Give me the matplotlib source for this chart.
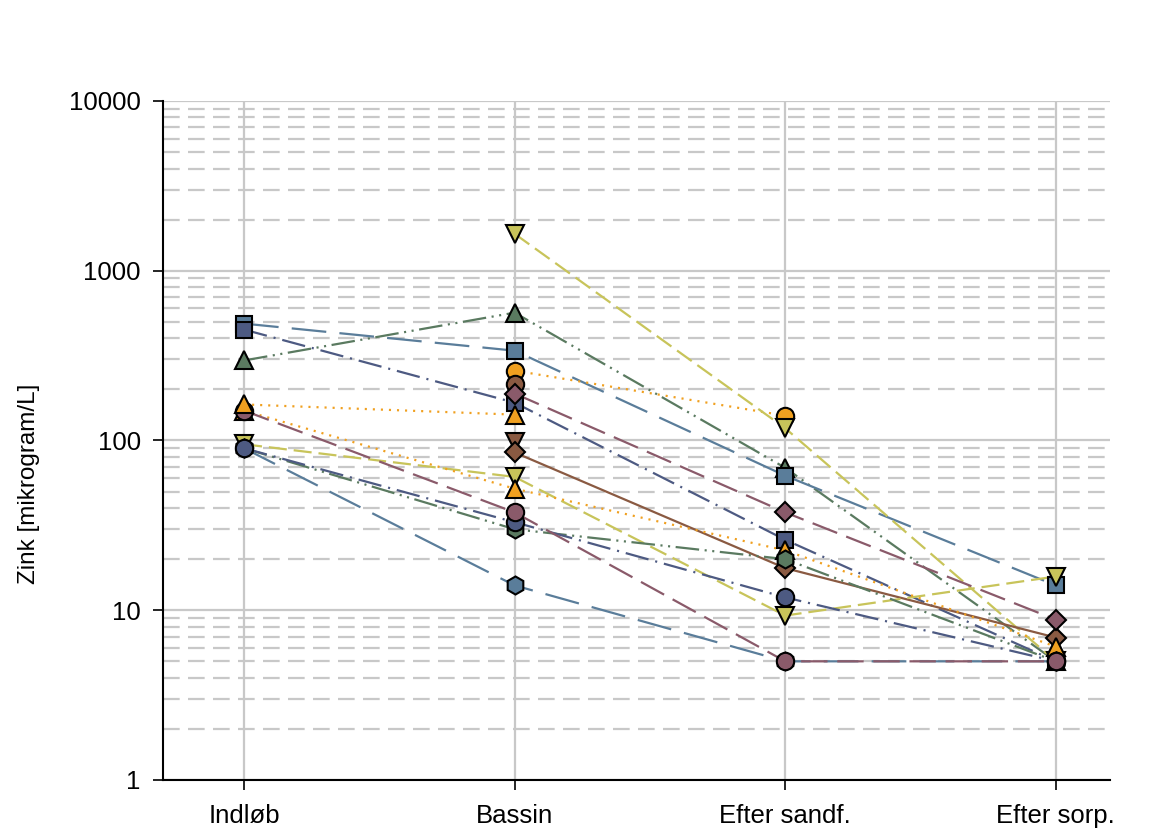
import numpy as np
import matplotlib
matplotlib.use("Agg")
import matplotlib.pyplot as plt
from matplotlib.ticker import FixedLocator, FixedFormatter, LogLocator, NullFormatter

plt.rcParams['font.family'] = ['Liberation Sans', 'DejaVu Sans']
plt.rcParams['lines.scale_dashes'] = False

stages = ['Indløb', 'Bassin', 'Efter sandf.', 'Efter sorp.']
nan = np.nan

# Zink per series: Indløb, Bassin, Efter sandf., Efter sorp.
green_triangle = [296, 566, 69, 5]
blue_square = [488, 338, 62, 14]
slate_square = [450, 167, 26, 5]
orange_circle = [nan, 258, 140, nan]
yellow_down_a = [nan, 1650, 118, 5]
brown_circle = [nan, 216, nan, nan]
brown_down = [nan, 98, nan, nan]
brown_diamond = [nan, 85, 17.7, 6.9]
mauve_diamond = [nan, 189, 37.7, 8.8]
yellow_down_b = [95, 61, 9.3, 15.8]
orange_triangle_b = [150, 52, 22.5, 6.1]
blue_hexagon = [90, 14, 5, 5]
green_hexagon = [90, 30, 20, 5]
slate_circle = [90, 33, 11.9, 5]
mauve_circle = [150, 37.7, 5, 5]
orange_triangle_a = [163, 142, nan, nan]

# farver og linjetyper
steel = '#5a7d9a'
slate = '#4d5a82'
green = '#5a7a60'
yellow = '#c8c45a'
orange = '#f0a020'
mauve = '#8a5a6a'
brown = '#8a5a42'

long_dash = (0, (25, 9.5))
dash_dot = (0, (17, 5, 1.5, 5))
dash_dot_dot = (0, (17, 4, 1.5, 4, 1.5, 4))
dotted = (0, (1.5, 4.3))
dashed = (0, (19, 7))
short_dash = (0, (13, 5))

series = [
    (green_triangle, green, '^', 13, dash_dot_dot),
    (blue_square, steel, 's', 11.5, long_dash),
    (slate_square, slate, 's', 11.5, dash_dot),
    (orange_circle, orange, 'o', 12.5, dotted),
    (yellow_down_a, yellow, 'v', 13, short_dash),
    (brown_circle, brown, 'o', 12.5, '-'),
    (brown_down, brown, 'v', 13, '-'),
    (brown_diamond, brown, 'D', 10.5, '-'),
    (mauve_diamond, mauve, 'D', 10.5, dashed),
    (yellow_down_b, yellow, 'v', 13, short_dash),
    (orange_triangle_b, orange, '^', 13, dotted),
    (blue_hexagon, steel, 'h', 13, long_dash),
    (green_hexagon, green, 'h', 13, dash_dot_dot),
    (slate_circle, slate, 'o', 12.5, dash_dot),
    (mauve_circle, mauve, 'o', 12.5, dashed),
    (orange_triangle_a, orange, '^', 13, dotted),
]

fig = plt.figure(figsize=(11.55, 8.31), dpi=100)
ax = fig.add_axes([0.141, 0.0614, 0.820, 0.8171])

x = np.arange(len(stages))

# linjer under alle symboler
for vals, col, mk, ms, ls in series:
    ax.plot(x, vals, color=col, lw=1.6, linestyle=ls, zorder=2)

for i, (vals, col, mk, ms, ls) in enumerate(series):
    ax.plot(x, vals, linestyle='none', marker=mk, ms=ms, mfc=col,
            mec='black', mew=1.5, zorder=3 + i * 0.01)

ax.set_yscale('log')
ax.set_ylim(1, 10000)
ax.set_xlim(-0.3, 3.2)

yt = [1, 10, 100, 1000, 10000]
ax.yaxis.set_major_locator(FixedLocator(yt))
ax.yaxis.set_major_formatter(FixedFormatter([str(v) for v in yt]))
ax.yaxis.set_minor_locator(LogLocator(base=10, subs=np.arange(2, 10)))
ax.yaxis.set_minor_formatter(NullFormatter())

ax.set_xticks(x)
ax.set_xticklabels(stages)

ax.grid(which='major', axis='both', color='#c8c8c8', lw=1.6, ls='-')
ax.grid(which='minor', axis='y', color='#c8c8c8', lw=1.6, ls=(0, (12, 6)))
ax.set_axisbelow(True)

for s in ['top', 'right']:
    ax.spines[s].set_visible(False)
for s in ['left', 'bottom']:
    ax.spines[s].set_linewidth(1.5)
    ax.spines[s].set_color('black')

ax.tick_params(which='major', direction='out', length=7, width=1.2,
               labelsize=18.5, pad=9)
ax.tick_params(axis='x', which='major', pad=10)
ax.tick_params(axis='y', which='minor', length=0)

ax.set_ylabel('Zink [mikrogram/L]', fontsize=17.5)
ax.yaxis.set_label_coords(-0.130, 0.436)

fig.savefig('out.png', dpi=100)
